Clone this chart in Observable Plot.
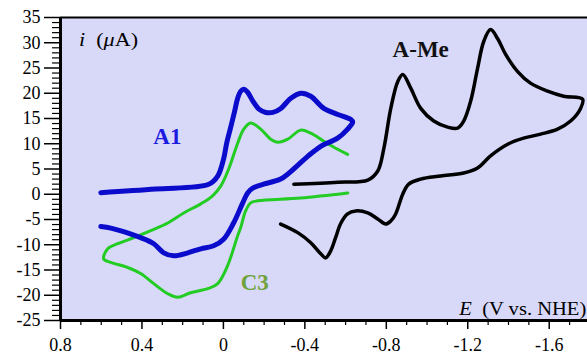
<!DOCTYPE html>
<html>
<head>
<meta charset="utf-8">
<script src="https://cdn.jsdelivr.net/npm/d3@7"></script>
<script src="https://cdn.jsdelivr.net/npm/@observablehq/plot@0.6"></script>
<style>
  html, body { margin: 0; padding: 0; background: white; }
  svg text { font-family: "Liberation Serif", "Times New Roman", serif; }
</style>
</head>
<body>
<div id="chart"></div>
<script>
// ---- Data (E in V vs. NHE, i in µA) ----
const xMajorTicks = [0.8, 0.4, 0, -0.4, -0.8, -1.2, -1.6];
const xMinorTicks = [0.7, 0.6, 0.5, 0.3, 0.2, 0.1, -0.1, -0.2, -0.3, -0.5, -0.6, -0.7, -0.9, -1.0, -1.1, -1.3, -1.4, -1.5, -1.7];
const yMajorTicks = [35, 30, 25, 20, 15, 10, 5, 0, -5, -10, -15, -20, -25];
const yMinorTicks = [34,33,32,31,29,28,27,26,24,23,22,21,19,18,17,16,14,13,12,11,9,8,7,6,4,3,2,1,-1,-2,-3,-4,-6,-7,-8,-9,-11,-12,-13,-14,-16,-17,-18,-19,-21,-22,-23,-24];

const a1E = [0.602, 0.332, 0.072, 0.028, -0.001, -0.016, -0.036, -0.055, -0.070, -0.085, -0.100, -0.119, -0.144, -0.176, -0.208, -0.243, -0.282, -0.331, -0.380, -0.429, -0.493, -0.562, -0.626, -0.635,
             -0.610, -0.561, -0.478, -0.414, -0.345, -0.281, -0.197, -0.144, -0.119, -0.095, -0.050, -0.001, 0.048, 0.111, 0.175, 0.244, 0.293, 0.342, 0.406, 0.490, 0.553, 0.602];
const a1I = [0.32, 1.04, 1.97, 3.6, 7.0, 10.1, 13.3, 16.4, 19.0, 20.4, 20.8, 20.2, 18.5, 16.8, 16.2, 16.2, 17.0, 19.0, 20.0, 19.4, 17.0, 15.8, 14.8, 14.3,
             12.9, 11.1, 9.5, 7.5, 5.0, 3.0, 2.0, 1.2, 0.26, -1.7, -5.7, -8.9, -10.2, -10.8, -11.6, -12.2, -11.6, -9.8, -8.6, -7.4, -6.7, -6.4];

const c3E = [-0.611, -0.379, -0.168, -0.134, -0.109, -0.085, -0.070, -0.021, 0.028, 0.077, 0.161, 0.224, 0.273, 0.342, 0.406, 0.470, 0.553, 0.588,
             0.568, 0.519, 0.440, 0.357, 0.273, 0.195, 0.111, 0.053, 0.013, -0.026, -0.070, -0.100, -0.134, -0.183, -0.232, -0.267, -0.316, -0.379, -0.429, -0.493, -0.561, -0.610];
const c3I = [0.26, -0.73, -1.3, -1.7, -3.3, -6.6, -8.2, -14.1, -17.7, -18.7, -19.5, -20.4, -19.7, -17.7, -15.7, -14.5, -13.5, -12.8,
             -10.8, -9.8, -8.6, -7.2, -5.7, -3.7, -1.9, -0.3, 1.6, 5.0, 10.1, 12.9, 14.1, 12.9, 10.9, 10.3, 10.9, 12.7, 12.1, 10.5, 8.9, 7.9];

const ameE = [-0.346, -0.562, -0.709, -0.758, -0.788, -0.822, -0.856, -0.881, -0.920, -0.969, -1.033, -1.101, -1.150, -1.180, -1.214, -1.248, -1.278, -1.312, -1.347, -1.386, -1.445, -1.508, -1.592, -1.671, -1.764,
              -1.754, -1.705, -1.641, -1.558, -1.474, -1.396, -1.312, -1.248, -1.180, -1.067, -0.969, -0.910, -0.881, -0.846, -0.822, -0.797, -0.758, -0.709, -0.650, -0.610, -0.576, -0.551, -0.527, -0.502, -0.478, -0.429, -0.365, -0.281];
const ameI = [2.0, 2.4, 2.8, 4.6, 9.1, 17.0, 22.3, 23.7, 21.0, 17.0, 14.5, 13.3, 13.1, 14.5, 18.4, 24.9, 30.2, 32.6, 30.8, 27.7, 24.3, 22.0, 20.4, 19.4, 18.8,
              17.0, 14.5, 12.9, 11.9, 11.1, 9.9, 7.6, 5.2, 4.2, 3.6, 3.0, 2.0, 0.06, -3.9, -5.3, -5.9, -4.9, -3.7, -3.3, -3.9, -5.8, -8.6, -11.2, -12.6, -11.8, -9.6, -7.6, -5.9];

const labels = [
  {text: "A1",   E: 0.344,  i: 11.5,  color: "#1c1ce0"},
  {text: "C3",   E: -0.085, i: -17.5, color: "#6fa23a"},
  {text: "A-Me", E: -0.831, i: 28.7,  color: "#111111"}
];

const toRows = (E, I) => E.map((e, k) => ({E: e, i: I[k]}));
const a1 = toRows(a1E, a1I);
const c3 = toRows(c3E, c3I);
const ame = toRows(ameE, ameI);

const fmt = d => String(d);
const font = "'Liberation Serif', 'Times New Roman', serif";

const chart = Plot.plot({
  width: 587,
  height: 355,
  marginLeft: 60,
  marginRight: 0,
  marginTop: 17,
  marginBottom: 35,
  style: {fontFamily: font, fontSize: "18px", background: "white", color: "black", overflow: "visible"},
  x: {domain: [0.8, -1.788], axis: null},
  y: {domain: [-25, 35], axis: null},
  marks: [
    Plot.frame({fill: "#d8d8f9", stroke: null}),
    Plot.line(c3, {x: "E", y: "i", stroke: "#22cc22", strokeWidth: 3, curve: "catmull-rom"}),
    Plot.line(a1, {x: "E", y: "i", stroke: "#0b0bcc", strokeWidth: 5, curve: "catmull-rom"}),
    Plot.line(ame, {x: "E", y: "i", stroke: "black", strokeWidth: 3.5, curve: "catmull-rom"}),
    Plot.axisY(yMinorTicks, {tickSize: 8, tickFormat: () => "", label: null, strokeWidth: 1.2}),
    Plot.axisY(yMajorTicks, {tickSize: 16, tickPadding: 4, tickFormat: fmt, label: null, strokeWidth: 1.5, fontSize: 18, fontFamily: font}),
    Plot.axisX(xMinorTicks, {tickSize: 5, tickFormat: () => "", label: null, strokeWidth: 1.2}),
    Plot.axisX(xMajorTicks, {tickSize: 9, tickPadding: 9, tickFormat: fmt, label: null, strokeWidth: 1.5, fontSize: 18, fontFamily: font}),
    Plot.ruleY([35], {stroke: "black", strokeWidth: 1.8}),
    Plot.ruleX([0.8], {stroke: "black", strokeWidth: 3}),
    Plot.ruleY([-25], {stroke: "black", strokeWidth: 3, x1: 0.8, x2: -1.788}),
    Plot.text(labels, {x: "E", y: "i", text: "text", fill: "color", textAnchor: "start", fontSize: 23, fontWeight: "bold", fontFamily: font}),
    Plot.text(["i (μA)"], {x: 0.709, y: 30.4, text: d => d, textAnchor: "start", fontSize: 18, fill: "black", fontFamily: font}),
    Plot.text(["E (V vs. NHE)"], {x: -1.782, y: -22.8, text: d => d, textAnchor: "end", fontSize: 18, fill: "black", fontFamily: font})
  ]
});

document.getElementById("chart").appendChild(chart);

// italic variables within the axis captions, stretched to the original's width
d3.select(chart).selectAll("text").each(function() {
  const t = d3.select(this);
  const s = this.textContent;
  if (s === "i (μA)") {
    t.text(null);
    t.append("tspan").attr("font-style", "italic").text("i");
    t.append("tspan").text("\u2002(");
    t.append("tspan").attr("font-style", "italic").text("μ");
    t.append("tspan").text("A)");
    t.attr("textLength", 59).attr("lengthAdjust", "spacingAndGlyphs");
  } else if (s === "E (V vs. NHE)") {
    t.text(null);
    t.append("tspan").attr("font-style", "italic").text("E");
    t.append("tspan").text("\u2002(V vs. NHE)");
    t.attr("textLength", 127).attr("lengthAdjust", "spacingAndGlyphs");
  }
});
</script>
</body>
</html>
